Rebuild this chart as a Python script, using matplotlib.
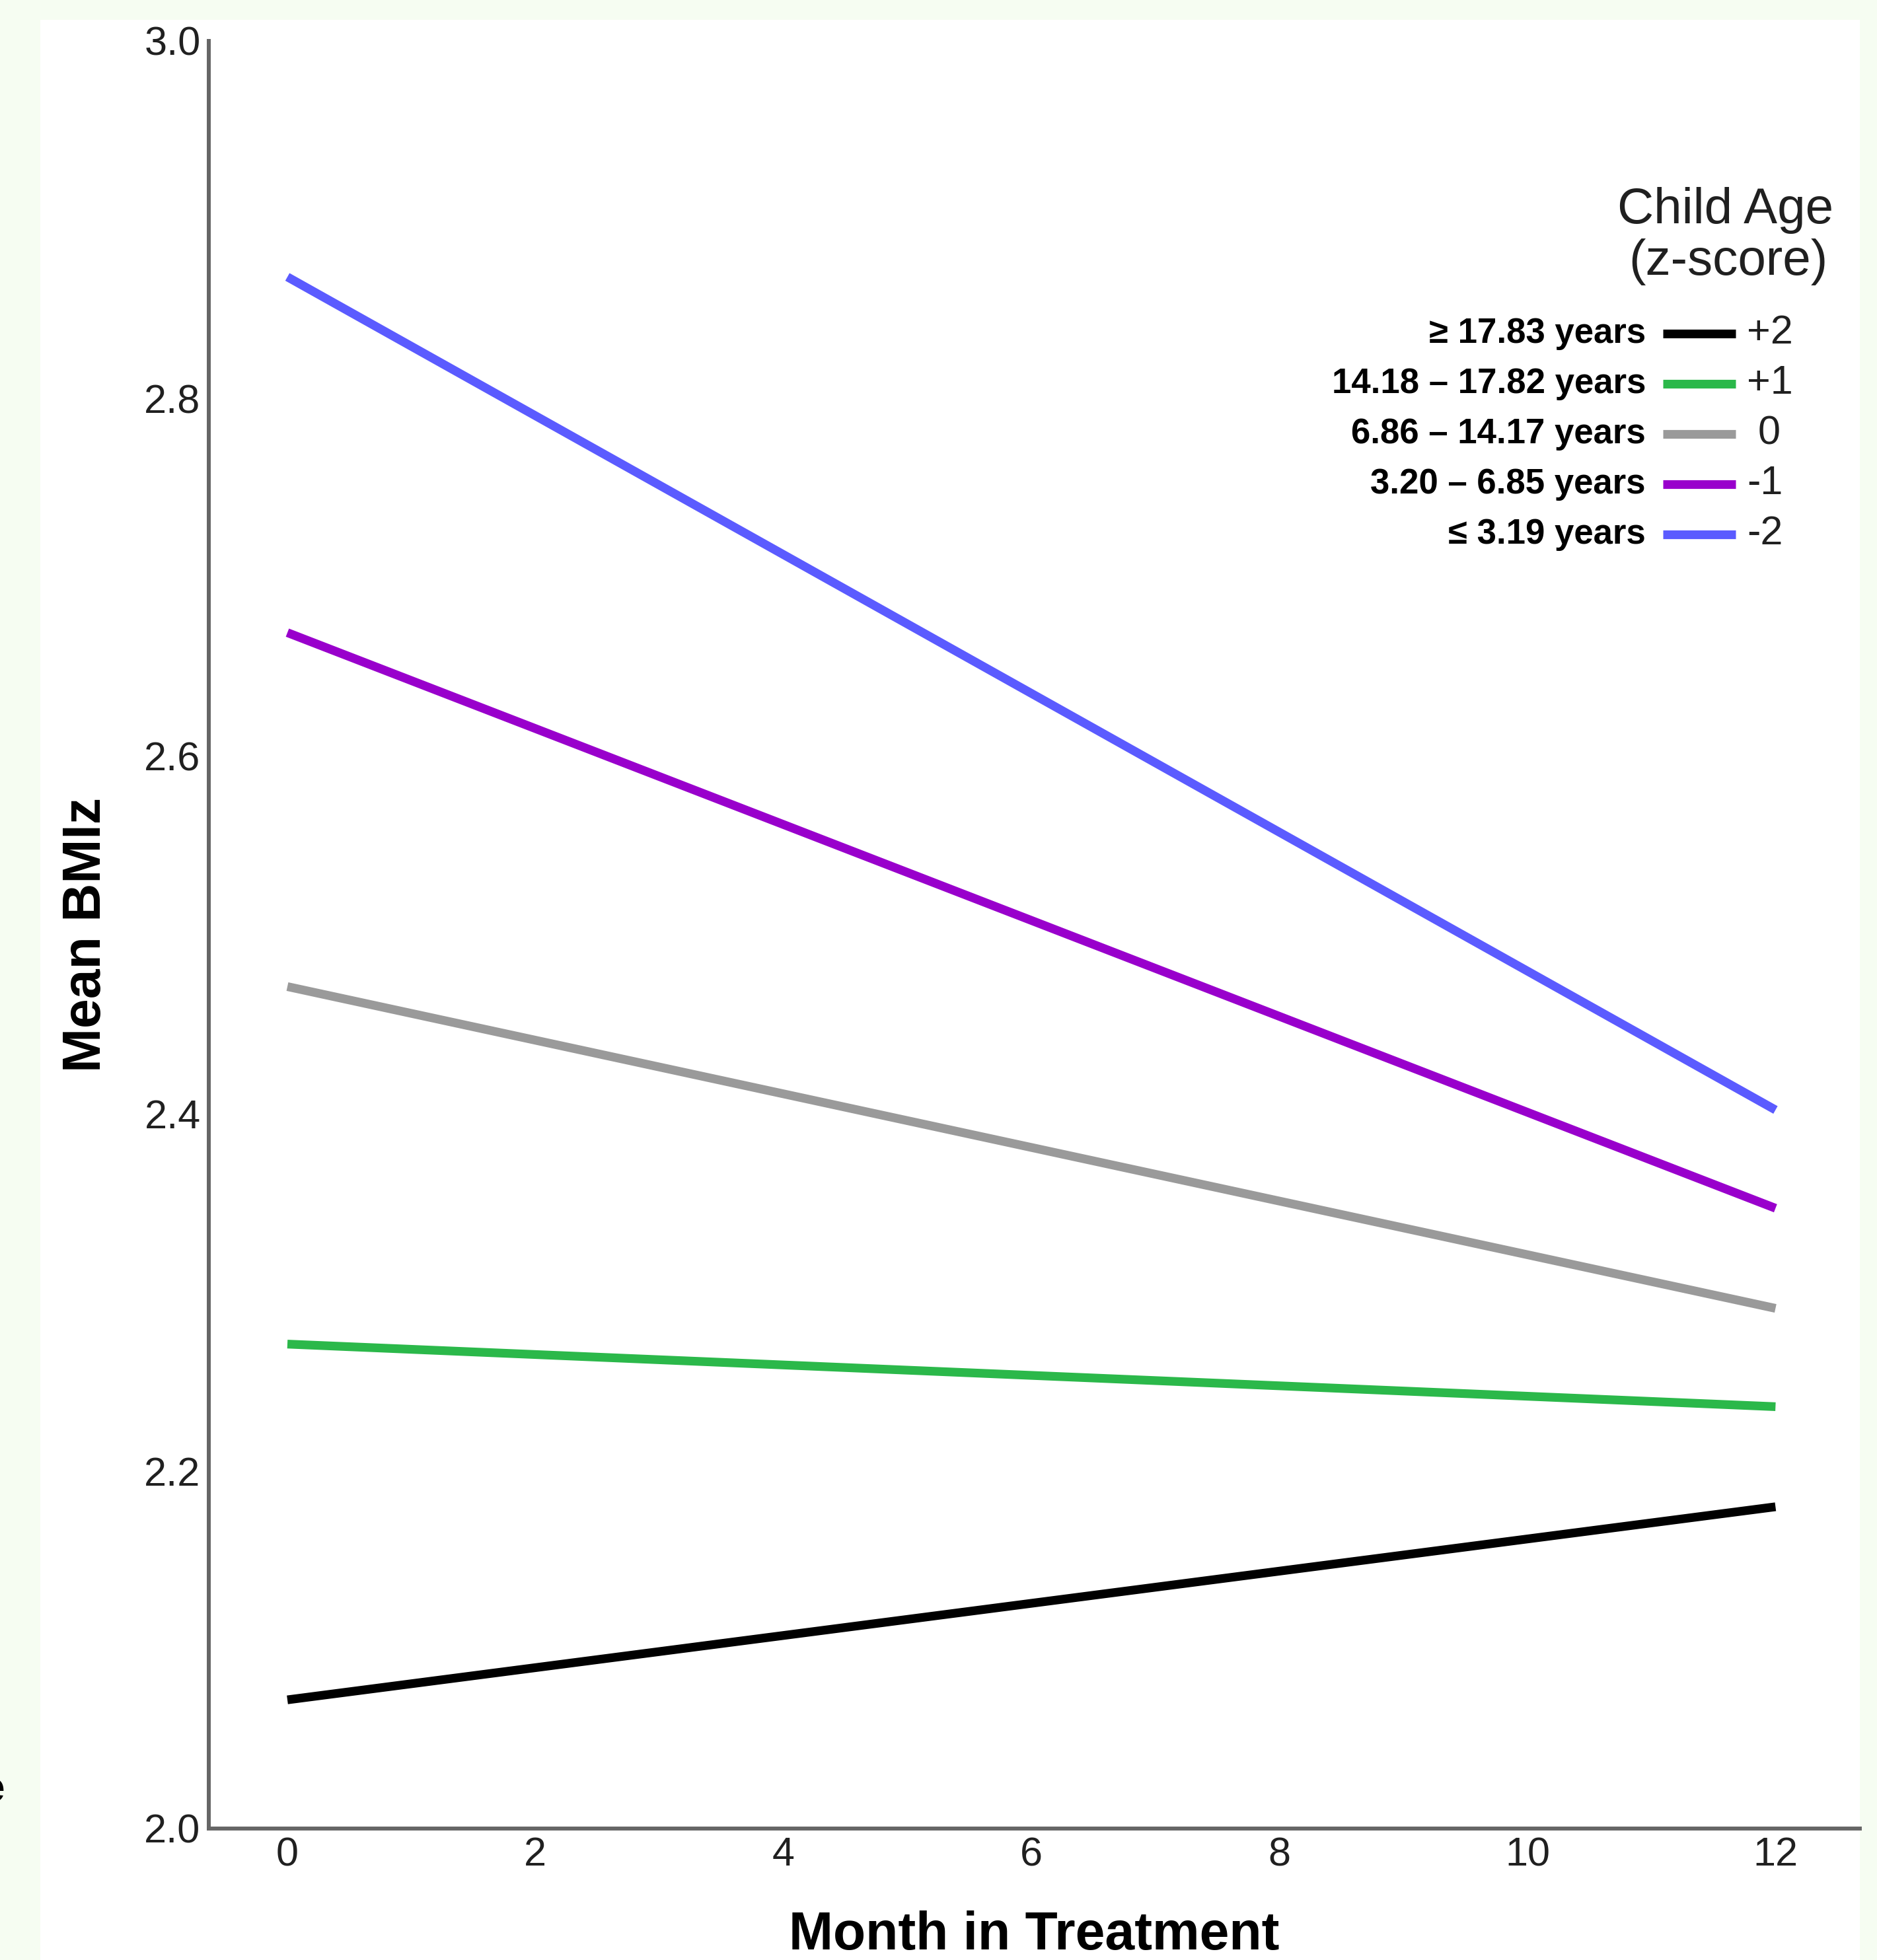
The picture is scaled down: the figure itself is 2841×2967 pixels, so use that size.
import numpy as np
import matplotlib
matplotlib.use('Agg')
import matplotlib.pyplot as plt
from matplotlib.lines import Line2D
from matplotlib.patches import Rectangle

plt.rcParams['font.family'] = ['Liberation Sans', 'DejaVu Sans']

## Data
months = [0, 12]
bmiz_plus2 = [2.072, 2.180]
bmiz_plus1 = [2.271, 2.236]
bmiz_zero = [2.471, 2.291]
bmiz_minus1 = [2.669, 2.347]
bmiz_minus2 = [2.868, 2.402]
series = [bmiz_plus2, bmiz_plus1, bmiz_zero, bmiz_minus1, bmiz_minus2]

age_labels = ['\u2265 17.83 years', '14.18 \u2013 17.82 years', '6.86 \u2013 14.17 years',
              '3.20 \u2013 6.85 years', '\u2264 3.19 years']
z_labels = ['+2', '+1', ' 0', '-1', '-2']
colors = ['#000000', '#2bb84a', '#9a9a9a', '#9900cc', '#5b5bff']

x_ticks = [0, 2, 4, 6, 8, 10, 12]
y_ticks = [2.0, 2.2, 2.4, 2.6, 2.8, 3.0]

## Figure geometry in pixels
W, H, DPI = 2841, 2967, 100


def fx(px):
    return px / W


def fy(py):
    return 1 - py / H


fig = plt.figure(figsize=(W / DPI, H / DPI), dpi=DPI, facecolor='#f6fdf2')
# white panel
fig.add_artist(Rectangle((fx(61), 0), fx(2815) - fx(61), fy(30), transform=fig.transFigure,
                         facecolor='white', edgecolor='none', zorder=0))

ax_left, ax_right, ax_top, ax_bottom = 316, 2815, 62, 2768
ax = fig.add_axes([fx(ax_left), fy(ax_bottom), fx(ax_right) - fx(ax_left), fy(ax_top) - fy(ax_bottom)])
ax.set_facecolor('none')

for vals, c in zip(series, colors):
    ax.plot(months, vals, color=c, lw=9.5, solid_capstyle='butt')

ax.set_xlim(-0.634, 12.68)
ax.set_ylim(2.0, 3.0)
ax.set_xticks(x_ticks)
ax.set_yticks(y_ticks)
ax.set_yticklabels(['%.1f' % v for v in y_ticks])
ax.tick_params(length=0, labelsize=44, labelcolor='#202020')
ax.tick_params(axis='y', pad=9)
ax.tick_params(axis='x', pad=9)

for side in ['top', 'right']:
    ax.spines[side].set_visible(False)
for side in ['left', 'bottom']:
    ax.spines[side].set_color('#666666')
    ax.spines[side].set_linewidth(4.3)

ax.set_ylabel('Mean BMIz', fontsize=58, fontweight='bold', va='center')
ax.yaxis.set_label_coords(-0.074, 0.5)
ax.set_xlabel('Month in Treatment', fontsize=58, fontweight='bold', va='baseline')
# baseline a little above the bottom edge of the image
ax.xaxis.set_label_coords(0.5, (ax_bottom - 2951) / (ax_bottom - ax_top))

## Legend drawn by hand
fig.text(fx(2612), fy(318), 'Child Age', fontsize=55, ha='center', va='center', color='#202020')
fig.text(fx(2616), fy(396), '(z-score)', fontsize=55, ha='center', va='center', color='#202020')

row0, row_step = 505, 76
for i in range(len(age_labels)):
    yy = fy(row0 + i * row_step)
    fig.text(fx(2491), yy, age_labels[i], fontsize=38, fontweight='bold', ha='right', va='center')
    fig.add_artist(Line2D([fx(2517), fx(2627)], [yy, yy], color=colors[i], lw=9.5,
                          solid_capstyle='butt', transform=fig.transFigure))
    fig.text(fx(2644), yy, z_labels[i], fontsize=44, ha='left', va='center', color='#202020')

# clipped character at the left edge of the source image
fig.text(fx(7), fy(2711), 'e', fontsize=46, fontweight='bold', ha='right', va='center')

fig.savefig('out.png', dpi=DPI, facecolor=fig.get_facecolor())
